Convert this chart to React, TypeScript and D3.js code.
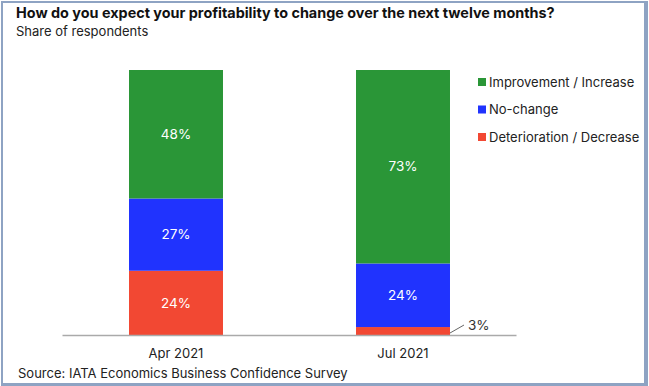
import React from 'react';
import * as d3 from 'd3';

const periods = ['Apr 2021', 'Jul 2021'];
const seriesNames = ['Deterioration / Decrease', 'No-change', 'Improvement / Increase'];
const deterioration = [24, 3];
const noChange = [27, 24];
const improvement = [48, 73];
const seriesColors = ['#f24833', '#2033fe', '#2a9637'];

type Row = { period: string; [key: string]: number | string };

const W = 649;
const H = 386;
const FONT = 'Inter, "Noto Sans", sans-serif';

const App: React.FC = () => {
  const rows: Row[] = periods.map((p, i) => ({
    period: p,
    [seriesNames[0]]: deterioration[i],
    [seriesNames[1]]: noChange[i],
    [seriesNames[2]]: improvement[i],
  }));

  // 100% stacked, like the original
  const stacked = d3
    .stack<Row>()
    .keys(seriesNames)
    .value((d, k) => d[k] as number)
    .offset(d3.stackOffsetExpand)(rows);

  const x = d3.scaleBand().domain(periods).range([62.5, 516.5]).paddingInner(0.586).paddingOuter(0.293);
  const y = d3.scaleLinear().domain([0, 1]).range([335, 70]);
  const color = d3.scaleOrdinal<string, string>().domain(seriesNames).range(seriesColors);

  const legendOrder = [...seriesNames].reverse();

  return (
    <svg width={W} height={H} style={{ position: 'absolute', left: 0, top: 0 }} fontFamily={FONT}>
      {/* frame */}
      <rect x={1} y={1} width={647} height={385} fill="#8ea3c3" />
      <rect x={3} y={3} width={641} height={380} fill="#ffffff" />

      <text x={16} y={18} fontSize={14.4} fontWeight={700} fill="#111">
        How do you expect your profitability to change over the next twelve months?
      </text>
      <text x={16} y={36} fontSize={13} fill="#222">Share of respondents</text>

      {stacked.map(layer => (
        <g key={layer.key} fill={color(layer.key)}>
          {layer.map(d => {
            const top = y(d[1]);
            const bottom = y(d[0]);
            const v = d.data[layer.key] as number;
            const xPos = x(d.data.period as string)!;
            const h = bottom - top;
            return (
              <g key={d.data.period as string}>
                <rect x={xPos} y={top} width={x.bandwidth()} height={h} />
                {h > 20 ? (
                  <text
                    x={xPos + x.bandwidth() / 2}
                    y={(top + bottom) / 2}
                    dy="0.35em"
                    textAnchor="middle"
                    fontSize={13.5}
                    fill="#fff"
                  >
                    {v}%
                  </text>
                ) : (
                  <g>
                    <line
                      x1={xPos + x.bandwidth()}
                      y1={(top + bottom) / 2 + 2}
                      x2={xPos + x.bandwidth() + 14}
                      y2={(top + bottom) / 2 - 6}
                      stroke="#666"
                      strokeWidth={1}
                    />
                    <text
                      x={xPos + x.bandwidth() + 18}
                      y={(top + bottom) / 2 - 6}
                      dy="0.35em"
                      fontSize={13.5}
                      fill="#333"
                    >
                      {v}%
                    </text>
                  </g>
                )}
              </g>
            );
          })}
        </g>
      ))}

      <line x1={x.range()[0]} x2={x.range()[1]} y1={335.5} y2={335.5} stroke="#aaa" strokeWidth={1.5} />

      {periods.map(p => (
        <text key={p} x={x(p)! + x.bandwidth() / 2} y={358} textAnchor="middle" fontSize={13} fill="#222">
          {p}
        </text>
      ))}

      {legendOrder.map((name, i) => (
        <g key={name} transform={`translate(478, ${82 + i * 27.5})`}>
          <rect x={0} y={-4} width={8} height={8} fill={color(name)} />
          <text x={11} y={0} dy="0.35em" fontSize={13} fill="#222">
            {name}
          </text>
        </g>
      ))}

      <text x={18} y={378} fontSize={13} fill="#222">
        Source: IATA Economics Business Confidence Survey
      </text>
    </svg>
  );
};

export default App;
